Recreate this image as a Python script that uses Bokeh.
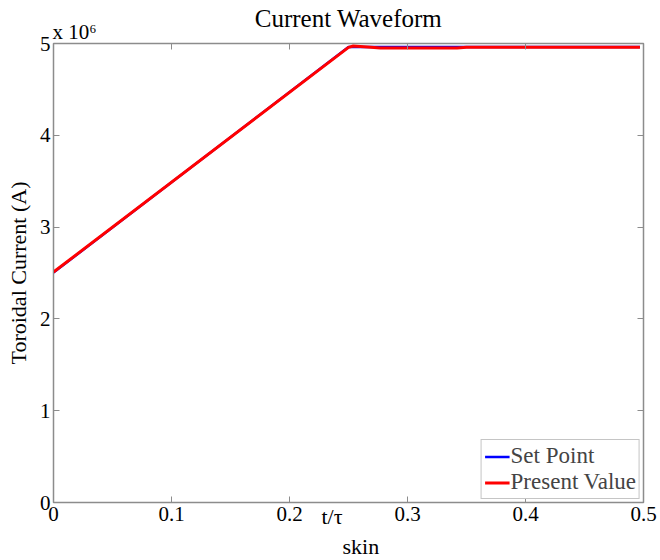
from bokeh.plotting import figure
from bokeh.models import Range1d, LinearAxis, FixedTicker, CustomJSTickFormatter, Legend, LegendItem, Title
from bokeh.embed import file_html
from bokeh.resources import INLINE

# data
set_t = [0.0, 0.25, 0.497]
set_I = [2.505e6, 4.962e6, 4.962e6]
pv_t = [0.0, 0.25, 0.254, 0.269, 0.277, 0.342, 0.35, 0.497]
pv_I = [2.51e6, 4.958e6, 4.972e6, 4.958e6, 4.950e6, 4.950e6, 4.958e6, 4.958e6]
x_ticks = [0, 0.1, 0.2, 0.3, 0.4, 0.5]
y_ticks = [0, 1e6, 2e6, 3e6, 4e6, 5e6]
title_text = "Current Waveform"
ylabel = "Toroidal Current (A)"
xlabel_main = "t/\u03c4"
xlabel_sub = "skin"
scale_text = "x 10\u2076"

FONT = "Liberation Serif"
GRAY = "#8c8c8c"
FS = "\u2007"  # figure space used as padding

p = figure(width=660, height=560, output_backend="svg", toolbar_location=None,
           x_range=Range1d(0, 0.5), y_range=Range1d(0, 5e6),
           min_border_left=53, min_border_right=17, min_border_top=43, min_border_bottom=58)
p.xaxis.visible = False
p.yaxis.visible = False
p.grid.visible = False
p.outline_line_color = GRAY
p.outline_line_width = 1.5
p.background_fill_color = "white"
p.border_fill_color = "white"

yfmt = CustomJSTickFormatter(code="return String(Math.round(tick/1e6));")
xfmt = CustomJSTickFormatter(code="return (tick===0)?'0':tick.toFixed(1);")
blank = CustomJSTickFormatter(code="return '';")
topfmt = CustomJSTickFormatter(args=dict(s=FS * 4 + scale_text),
                               code="return (tick===0) ? s : '';")

def mk(ticks, formatter):
    ax = LinearAxis(ticker=FixedTicker(ticks=ticks), formatter=formatter)
    ax.axis_line_color = GRAY
    ax.major_tick_line_color = GRAY
    ax.major_tick_in = 6
    ax.major_tick_out = 0
    ax.minor_tick_line_color = None
    ax.major_label_text_font = FONT
    ax.major_label_text_font_size = "21px"
    ax.major_label_text_color = "black"
    ax.axis_label_text_font = FONT
    ax.axis_label_text_font_style = "normal"
    ax.axis_label_text_color = "black"
    return ax

# bottom axis: ticks + "t/tau" (padded so it sits left of centre)
xb = mk(x_ticks, xfmt)
xb.major_label_standoff = 4
xb.axis_label = xlabel_main + FS * 3
xb.axis_label_text_font_size = "22px"
xb.axis_label_standoff = -20
p.add_layout(xb, "below")
p.add_layout(Title(text=xlabel_sub, align="left", offset=289, standoff=0,
                   text_font=FONT, text_font_size="22px", text_font_style="normal",
                   text_color="black"), "below")

# top axis: ticks, the "x 10^6" scale note and the title
xa = mk(x_ticks, topfmt)
xa.major_label_standoff = 0
xa.axis_label = title_text
xa.axis_label_text_font_size = "25px"
xa.axis_label_standoff = -15
p.add_layout(xa, "above")

yl = mk(y_ticks, yfmt)
yl.major_label_standoff = 3
yl.axis_label = ylabel
yl.axis_label_text_font_size = "22px"
yl.axis_label_standoff = 6
p.add_layout(yl, "left")

yr = mk(y_ticks, blank)
yr.major_label_standoff = 0
p.add_layout(yr, "right")

r1 = p.line(set_t, set_I, line_color="#0000ff", line_width=2.5)
r2 = p.line(pv_t, pv_I, line_color="#ff0000", line_width=3)

legend = Legend(items=[LegendItem(label="Set Point", renderers=[r1]),
                       LegendItem(label="Present Value", renderers=[r2])],
                location="bottom_right")
legend.label_text_font = FONT
legend.label_text_font_size = "23px"
legend.label_standoff = 1
legend.glyph_width = 25
legend.glyph_height = 25
legend.label_height = 25
legend.spacing = 0
legend.padding = 3
legend.margin = 3
legend.border_line_color = GRAY
legend.border_line_width = 1.2
legend.background_fill_alpha = 1
p.add_layout(legend, "center")

open("out.html", "w").write(file_html(p, INLINE))
